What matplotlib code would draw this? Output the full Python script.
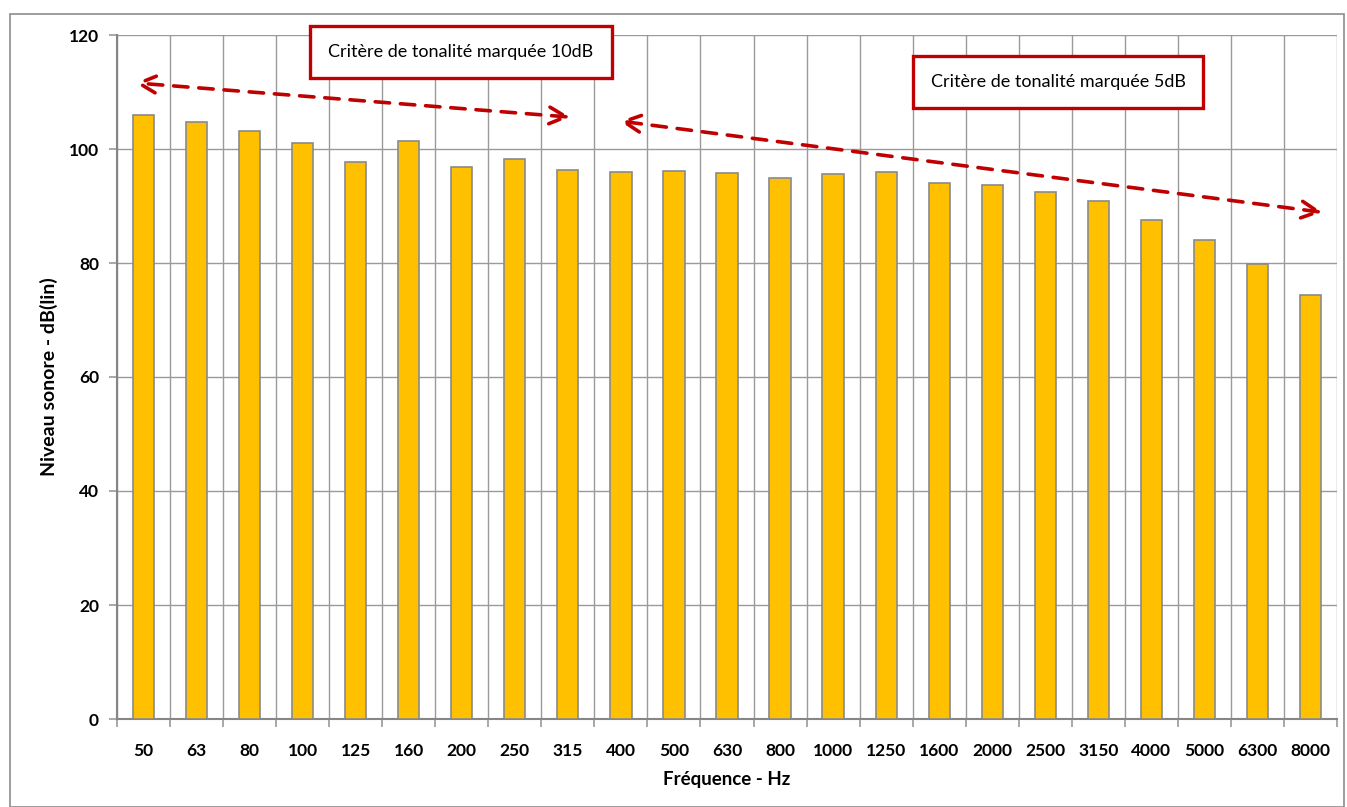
import matplotlib.pyplot as plt
from matplotlib.patches import Rectangle
import numpy as np

plt.rcParams['font.family'] = ['Lato', 'DejaVu Sans']

# third-octave bands and measured level per band
frequences = ['50', '63', '80', '100', '125', '160', '200', '250', '315', '400',
              '500', '630', '800', '1000', '1250', '1600', '2000', '2500', '3150',
              '4000', '5000', '6300', '8000']
niveaux = [106.0, 104.7, 103.2, 101.0, 97.7, 101.4, 96.8, 98.3, 96.4, 96.0,
           96.2, 95.8, 95.0, 95.6, 96.0, 94.0, 93.6, 92.5, 90.9, 87.6,
           84.0, 79.8, 74.3]

grid_col = '#9a9a9a'
rouge = '#C00000'

fig = plt.figure(figsize=(13.47, 8.07), dpi=100)
ax = fig.add_axes([117 / 1347, 1 - 719 / 807, 1220 / 1347, 684 / 807])

x = np.arange(len(frequences))
ax.bar(x, niveaux, width=0.4, color='#FFC000', edgecolor='#8a8a8a',
       linewidth=1.2, zorder=3)

ax.set_xlim(-0.5, len(frequences) - 0.5)
ax.set_ylim(0, 120)
ax.set_yticks(np.arange(0, 121, 20))
ax.set_xticks(x)
ax.set_xticklabels(frequences)
ax.set_xticks(np.arange(-0.5, len(frequences), 1), minor=True)

ax.grid(axis='y', which='major', color=grid_col, linewidth=1.0, zorder=0)
ax.grid(axis='x', which='minor', color=grid_col, linewidth=1.0, zorder=0)
ax.tick_params(axis='x', which='major', length=0, pad=17, labelsize=12.5)
ax.tick_params(axis='x', which='minor', length=6, width=1.2, color=grid_col)
ax.tick_params(axis='y', length=6, width=1.2, color=grid_col, pad=7, labelsize=12.5)
for lab in ax.get_xticklabels() + ax.get_yticklabels():
    lab.set_fontweight('bold')

for s in ['top', 'right']:
    ax.spines[s].set_visible(False)
for s in ['left', 'bottom']:
    ax.spines[s].set_color('#868686')
    ax.spines[s].set_linewidth(1.5)

ax.set_ylabel('Niveau sonore - dB(lin)', fontsize=14, fontweight='bold', labelpad=8)
ax.set_xlabel('Fréquence - Hz', fontsize=13.5, fontweight='bold', labelpad=9)

# double-headed dashed arrows marking the two tonality criteria ranges
arrow_kw = dict(arrowstyle='<->', color=rouge, lw=2.6, linestyle=(0, (4, 3)),
                mutation_scale=30, shrinkA=0, shrinkB=0)
ax.annotate('', xy=(-0.16, 111.6), xytext=(8.04, 105.6),
            arrowprops=arrow_kw, annotation_clip=False, zorder=5)
ax.annotate('', xy=(8.98, 104.9), xytext=(22.22, 88.9),
            arrowprops=arrow_kw, annotation_clip=False, zorder=5)

box_kw = dict(boxstyle='square,pad=1.0', facecolor='white', edgecolor=rouge, linewidth=2.4)
fig.text(461 / 1347, 1 - 52 / 807, 'Critère de tonalité marquée 10dB', fontsize=13,
         ha='center', va='center', bbox=box_kw, zorder=6)
fig.text(1058 / 1347, 1 - 82 / 807, 'Critère de tonalité marquée 5dB', fontsize=13,
         ha='center', va='center', bbox=box_kw, zorder=6)

# outer chart frame
fig.patches.append(Rectangle((10 / 1347, 0), 1334 / 1347, 1 - 14 / 807,
                             transform=fig.transFigure, fill=False,
                             edgecolor='#8c8c8c', linewidth=1.2))

fig.savefig('out.png', dpi=100)
